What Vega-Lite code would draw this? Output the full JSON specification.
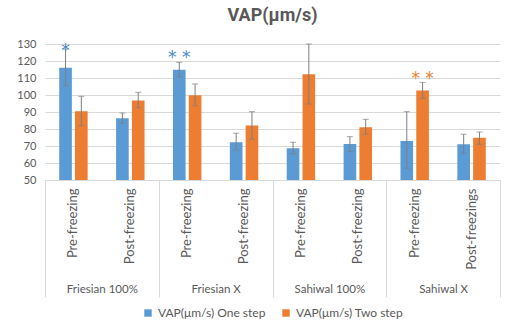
{
  "$schema": "https://vega.github.io/schema/vega-lite/v6.json",
  "width": 455,
  "height": 136,
  "padding": {"left": 16, "top": 7, "right": 5, "bottom": 5},
  "background": "white",
  "title": {
    "text": "VAP(μm/s)",
    "font": "Roboto",
    "fontSize": 18,
    "fontWeight": "bold",
    "color": "#595959",
    "anchor": "middle",
    "offset": 13
  },
  "config": {
    "view": {"stroke": null},
    "font": "Lato",
    "axis": {"labelFont": "Lato", "labelFontSize": 11, "labelColor": "#595959"},
    "legend": {
      "labelFont": "Lato",
      "labelFontSize": 12,
      "labelColor": "#595959",
      "layout": {"bottom": {"anchor": "middle"}}
    }
  },
  "datasets": {
    "bars": [
      {"group": "Friesian 100%", "cat": "Friesian 100%|Pre-freezing", "series": "VAP(μm/s) One step", "value": 116.0, "lo": 105.5, "hi": 127.0},
      {"group": "Friesian 100%", "cat": "Friesian 100%|Pre-freezing", "series": "VAP(μm/s) Two step", "value": 90.5, "lo": 82.0, "hi": 99.2},
      {"group": "Friesian 100%", "cat": "Friesian 100%|Post-freezing", "series": "VAP(μm/s) One step", "value": 86.3, "lo": 83.4, "hi": 89.4},
      {"group": "Friesian 100%", "cat": "Friesian 100%|Post-freezing", "series": "VAP(μm/s) Two step", "value": 96.7, "lo": 92.5, "hi": 101.6},
      {"group": "Friesian X", "cat": "Friesian X|Pre-freezing", "series": "VAP(μm/s) One step", "value": 114.8, "lo": 110.6, "hi": 119.2},
      {"group": "Friesian X", "cat": "Friesian X|Pre-freezing", "series": "VAP(μm/s) Two step", "value": 99.9, "lo": 93.7, "hi": 106.5},
      {"group": "Friesian X", "cat": "Friesian X|Post-freezing", "series": "VAP(μm/s) One step", "value": 72.2, "lo": 67.6, "hi": 77.5},
      {"group": "Friesian X", "cat": "Friesian X|Post-freezing", "series": "VAP(μm/s) Two step", "value": 82.0, "lo": 74.0, "hi": 90.2},
      {"group": "Sahiwal 100%", "cat": "Sahiwal 100%|Pre-freezing", "series": "VAP(μm/s) One step", "value": 68.7, "lo": 65.3, "hi": 72.2},
      {"group": "Sahiwal 100%", "cat": "Sahiwal 100%|Pre-freezing", "series": "VAP(μm/s) Two step", "value": 112.2, "lo": 94.7, "hi": 130.0},
      {"group": "Sahiwal 100%", "cat": "Sahiwal 100%|Post-freezing", "series": "VAP(μm/s) One step", "value": 71.2, "lo": 66.7, "hi": 75.5},
      {"group": "Sahiwal 100%", "cat": "Sahiwal 100%|Post-freezing", "series": "VAP(μm/s) Two step", "value": 81.0, "lo": 76.9, "hi": 85.7},
      {"group": "Sahiwal X", "cat": "Sahiwal X|Pre-freezing", "series": "VAP(μm/s) One step", "value": 73.0, "lo": 56.9, "hi": 90.2},
      {"group": "Sahiwal X", "cat": "Sahiwal X|Pre-freezing", "series": "VAP(μm/s) Two step", "value": 102.6, "lo": 98.0, "hi": 107.4},
      {"group": "Sahiwal X", "cat": "Sahiwal X|Post-freezings", "series": "VAP(μm/s) One step", "value": 71.0, "lo": 65.7, "hi": 76.9},
      {"group": "Sahiwal X", "cat": "Sahiwal X|Post-freezings", "series": "VAP(μm/s) Two step", "value": 74.9, "lo": 71.0, "hi": 78.2}
    ],
    "stars": [
      {"cat": "Friesian 100%|Pre-freezing", "series": "VAP(μm/s) One step", "y": 129.0, "mark": "*"},
      {"cat": "Friesian X|Pre-freezing", "series": "VAP(μm/s) One step", "y": 125.0, "mark": "* *"},
      {"cat": "Sahiwal X|Pre-freezing", "series": "VAP(μm/s) Two step", "y": 112.2, "mark": "* *"}
    ],
    "groups": [
      {"group": "Friesian 100%"},
      {"group": "Friesian X"},
      {"group": "Sahiwal 100%"},
      {"group": "Sahiwal X"}
    ]
  },
  "encoding": {
    "y": {
      "type": "quantitative",
      "title": null,
      "scale": {"domain": [50, 130], "nice": false, "zero": false},
      "axis": {
        "values": [50, 60, 70, 80, 90, 100, 110, 120, 130],
        "labelOverlap": false,
        "domain": false,
        "ticks": false,
        "gridColor": "#d9d9d9",
        "labelPadding": 9
      }
    }
  },
  "layer": [
    {
      "data": {"name": "bars"},
      "encoding": {
        "x": {
          "field": "cat",
          "type": "nominal",
          "sort": null,
          "title": null,
          "scale": {"paddingInner": 0.5, "paddingOuter": 0.25},
          "axis": {
            "labelExpr": "split(datum.label, '|')[1]",
            "labelAngle": -90,
            "labelPadding": 8,
            "labelFontSize": 13,
            "ticks": false,
            "domainColor": "#d9d9d9"
          }
        },
        "xOffset": {"field": "series", "type": "nominal", "scale": {"paddingInner": 0.2}}
      },
      "layer": [
        {
          "mark": {"type": "bar", "clip": true},
          "encoding": {
            "y": {"field": "value"},
            "color": {
              "field": "series",
              "type": "nominal",
              "scale": {"domain": ["VAP(μm/s) One step", "VAP(μm/s) Two step"], "range": ["#5b9bd5", "#ed7d31"]},
              "legend": {
                "title": null,
                "orient": "bottom",
                "direction": "horizontal",
                "symbolType": "square",
                "symbolSize": 55,
                "symbolStrokeWidth": 0,
                "columnPadding": 14,
                "offset": 9
              }
            }
          }
        },
        {
          "mark": {"type": "rule", "color": "#7f7f7f", "strokeWidth": 1},
          "encoding": {
            "y": {"field": "lo"},
            "y2": {"field": "hi"}
          }
        },
        {
          "mark": {"type": "tick", "color": "#7f7f7f", "size": 6, "thickness": 1},
          "encoding": {"y": {"field": "lo"}}
        },
        {
          "mark": {"type": "tick", "color": "#7f7f7f", "size": 6, "thickness": 1},
          "encoding": {"y": {"field": "hi"}}
        },
        {
          "data": {"name": "stars"},
          "transform": [{"filter": "datum.series === 'VAP(μm/s) One step'"}],
          "mark": {"type": "text", "font": "DejaVu Sans", "fontSize": 17, "color": "#4a8ac7", "baseline": "alphabetic", "dy": 10},
          "encoding": {
            "y": {"field": "y"},
            "text": {"field": "mark"}
          }
        },
        {
          "data": {"name": "stars"},
          "transform": [{"filter": "datum.series === 'VAP(μm/s) Two step'"}],
          "mark": {"type": "text", "font": "DejaVu Sans", "fontSize": 17, "color": "#ed7d31", "baseline": "alphabetic", "dy": 10},
          "encoding": {
            "y": {"field": "y"},
            "text": {"field": "mark"}
          }
        }
      ]
    },
    {
      "data": {"name": "groups"},
      "mark": {"type": "point", "opacity": 0},
      "encoding": {
        "y": {"datum": 90},
        "x": {
          "field": "group",
          "type": "nominal",
          "sort": null,
          "title": null,
          "scale": {"type": "band", "paddingInner": 0, "paddingOuter": 0},
          "axis": {
            "orient": "bottom",
            "domain": false,
            "labelAngle": 0,
            "tickBand": "extent",
            "tickSize": 117,
            "tickColor": "#d9d9d9",
            "labelPadding": -14,
            "labelFontSize": 11.5
          }
        }
      }
    }
  ],
  "resolve": {"scale": {"x": "independent"}, "axis": {"x": "independent"}}
}
